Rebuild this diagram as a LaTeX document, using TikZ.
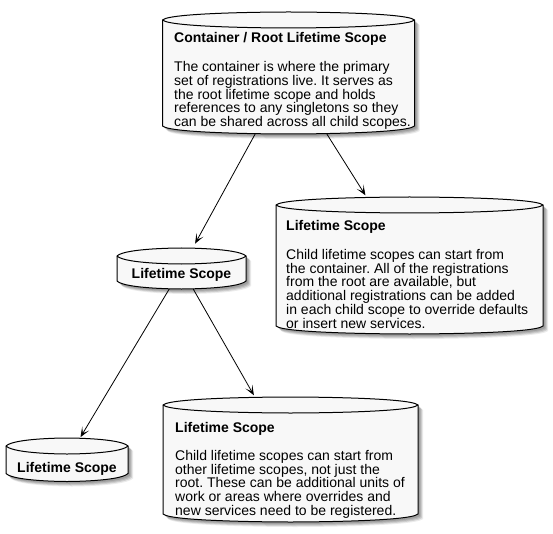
\documentclass[tikz,border=0pt]{standalone}
\usepackage{fontspec}
\setmainfont{Liberation Sans}
\usetikzlibrary{arrows.meta}
\definecolor{dbfill}{HTML}{F8F8F8}
\frenchspacing
\def\dbh{8}
% outline of a database shape: x1, ytop, x2, ybottom (pixel values, y down)
\newcommand{\dbout}[4]{%
  ({#1},{-(#2+\dbh)})
  .. controls ({#1+\dbh},{-#2}) and ({(#1+#3)/2},{-#2}) .. ({(#1+#3)/2},{-#2})
  .. controls ({(#1+#3)/2},{-#2}) and ({#3-\dbh},{-#2}) .. ({#3},{-(#2+\dbh)})
  -- ({#3},{-(#4-\dbh)})
  .. controls ({#3-\dbh},{-#4}) and ({(#1+#3)/2},{-#4}) .. ({(#1+#3)/2},{-#4})
  .. controls ({(#1+#3)/2},{-#4}) and ({#1+\dbh},{-#4}) .. ({#1},{-(#4-\dbh)})
  -- cycle}
\newcommand{\dbfront}[4]{%
  ({#1},{-(#2+\dbh)})
  .. controls ({#1+\dbh},{-(#2+2*\dbh)}) and ({(#1+#3)/2},{-(#2+2*\dbh)}) .. ({(#1+#3)/2},{-(#2+2*\dbh)})
  .. controls ({(#1+#3)/2},{-(#2+2*\dbh)}) and ({#3-\dbh},{-(#2+2*\dbh)}) .. ({#3},{-(#2+\dbh)})}
\newcommand{\dbshape}[4]{%
  \foreach \s/\o in {2/0.12,3/0.12,4/0.12,5/0.08}{%
    \fill[black,opacity=\o,shift={(\s,-\s)}] \dbout{#1}{#2}{#3}{#4};}
  \filldraw[fill=dbfill,draw=black,line width=1pt] \dbout{#1}{#2}{#3}{#4};
  \draw[line width=1pt] \dbfront{#1}{#2}{#3}{#4};}
\tikzset{
  box/.style={draw=none,inner sep=0pt,outer sep=0pt,anchor=north west},
  txt/.style={inner sep=0pt,anchor=base west,align=left,font=\fontsize{14}{13.8}\selectfont},
  ttl/.style={txt,font=\fontsize{14}{13.8}\selectfont\bfseries},
  conn/.style={line width=0.8pt,-{Stealth[length=10pt,width=8pt,inset=5.5pt]}}
}
\begin{document}
\begin{tikzpicture}[x=1pt,y=1pt]
\useasboundingbox (0,0) rectangle (553,-534);
% shapes
\dbshape{162.5}{12}{414.5}{134}
\dbshape{276}{197}{543}{334}
\dbshape{117}{248}{246}{289}
\dbshape{6}{438}{128}{481.5}
\dbshape{163}{397}{418}{522}
% named nodes covering the shapes
\node[box,minimum width=252pt,minimum height=122pt] (root) at (162.5,-12) {};
\node[box,minimum width=267pt,minimum height=137pt] (child) at (276,-197) {};
\node[box,minimum width=129pt,minimum height=41pt] (mid) at (117,-248) {};
\node[box,minimum width=122pt,minimum height=43.5pt] (leaf) at (6,-438) {};
\node[box,minimum width=255pt,minimum height=125pt] (sub) at (163,-397) {};
% texts (multi-line nodes: base anchor is the last line's baseline)
\node[ttl] (roott) at (174,-43) {Container / Root Lifetime Scope};
\node[txt] (rootb) at (174,-126.7) {The container is where the primary\\set of registrations live. It serves as\\the root lifetime scope and holds\\references to any singletons so they\\can be shared across all child scopes.};
\node[ttl] (childt) at (286,-231) {Lifetime Scope};
\node[txt] (childb) at (286,-328.3) {Child lifetime scopes can start from\\the container. All of the registrations\\from the root are available, but\\additional registrations can be added\\in each child scope to override defaults\\or insert new services.};
\node[ttl,anchor=base] (midt) at (181.5,-278.5) {Lifetime Scope};
\node[ttl,anchor=base] (leaft) at (67,-472.2) {Lifetime Scope};
\node[ttl] (subt) at (175,-432) {Lifetime Scope};
\node[txt] (subb) at (175,-515.5) {Child lifetime scopes can start from\\other lifetime scopes, not just the\\root. These can be additional units of\\work or areas where overrides and\\new services need to be registered.};
% connectors
\draw[conn,shorten >=5pt] (root) -- (mid);
\draw[conn,shorten >=2pt] (root) -- (child);
\draw[conn,shorten >=1pt] (mid) -- (leaf);
\draw[conn,shorten >=2pt] (mid) -- (sub);
\end{tikzpicture}
\end{document}
